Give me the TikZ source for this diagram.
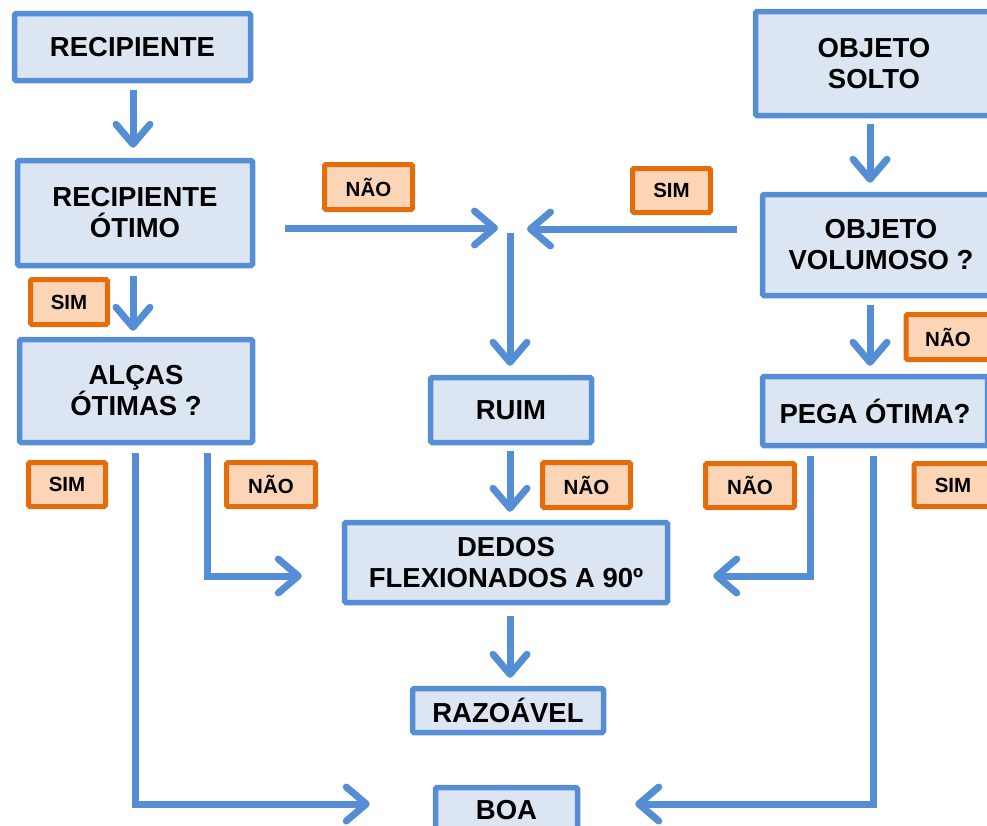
\documentclass[tikz,border=0pt]{standalone}
\usepackage{fontspec}
\setmainfont{Liberation Sans}
\usetikzlibrary{arrows.meta,calc}
\definecolor{boxfill}{HTML}{DCE6F2}
\definecolor{boxline}{HTML}{558ED5}
\definecolor{arrline}{HTML}{558ED5}
\definecolor{tagfill}{HTML}{FBD5B5}
\definecolor{tagline}{HTML}{E46C0A}
\begin{document}
\begin{tikzpicture}[x=1pt,y=-1pt,
  stepbox/.style={draw=boxline, fill=boxfill, line width=5.5pt, rounded corners=1.5pt,
    align=center, inner sep=0pt, font=\fontsize{27.5}{31}\selectfont\bfseries},
  tag/.style={draw=tagline, fill=tagfill, line width=5pt, rounded corners=1.5pt,
    inner sep=0pt, font=\fontsize{20.5}{22}\selectfont\bfseries},
  arr/.style={draw=arrline, line width=7pt,
    -{Straight Barb[length=20pt,width=34pt,line cap=round,line join=round]}},
]
\useasboundingbox (0,0) rectangle (987,825);
\clip (0,0) rectangle (987,825);

% process boxes
\node[stepbox, minimum width=236pt, minimum height=67pt]  (rec)   at (132.5,47)  {RECIPIENTE};
\node[stepbox, minimum width=235pt, minimum height=105pt] (otimo) at (135,213)   {RECIPIENTE\\ÓTIMO};
\node[stepbox, minimum width=233pt, minimum height=103pt] (alcas) at (136,391)   {ALÇAS\\ÓTIMAS ?};
\node[stepbox, minimum width=237pt, minimum height=104pt] (solto) at (874,63.5)  {OBJETO\\SOLTO};
\node[stepbox, minimum width=237pt, minimum height=101pt] (volum) at (881,245)   {OBJETO\\VOLUMOSO ?};
\node[stepbox, minimum width=225pt, minimum height=69pt]  (pega)  at (875,411)   {PEGA ÓTIMA?};
\node[stepbox, minimum width=161pt, minimum height=65pt]  (ruim)  at (511,410)   {RUIM};
\node[stepbox, minimum width=323pt, minimum height=80pt]  (dedos) at (506,562.5) {DEDOS\\FLEXIONADOS A 90º};
\node[stepbox, minimum width=191pt, minimum height=44pt]  (razo)  at (508,710.5) {RAZOÁVEL};
\node[stepbox, minimum width=142pt, minimum height=45pt]  (boa)   at (506.5,810) {BOA};

% answer tags
\node[tag, minimum width=88pt, minimum height=45pt] (tnao1) at (368.5,187)   {NÃO};
\node[tag, minimum width=78pt, minimum height=44pt] (tsim1) at (671.5,190.5) {SIM};
\node[tag, minimum width=77pt, minimum height=45pt] (tsim2) at (69,302)      {SIM};
\node[tag, minimum width=84pt, minimum height=45pt] (tnao2) at (948,337)     {NÃO};
\node[tag, minimum width=77pt, minimum height=44pt] (tsim3) at (67,484.5)    {SIM};
\node[tag, minimum width=89pt, minimum height=44pt] (tnao3) at (271,484.5)   {NÃO};
\node[tag, minimum width=88pt, minimum height=45pt] (tnao4) at (586.5,485)   {NÃO};
\node[tag, minimum width=89pt, minimum height=44pt] (tnao5) at (750,485.5)   {NÃO};
\node[tag, minimum width=78pt, minimum height=43pt] (tsim4) at (953,485)     {SIM};

% routing points
\coordinate (join)  at (510,228);
\coordinate (colL)  at (133,0);
\coordinate (colR)  at (870,0);
\coordinate (colA)  at (135,0);
\coordinate (colB)  at (207,0);
\coordinate (colC)  at (810,0);
\coordinate (colD)  at (873,0);
\coordinate (rowD)  at (0,576);
\coordinate (rowB)  at (0,804);

% straight links
\draw[arr] ($(rec.south -| colL)+(0,7)$) -- ($(otimo.north -| colL)+(0,-10)$);
\draw[arr] ($(otimo.south -| colL)+(0,8)$) -- ($(alcas.north -| colL)+(0,-6)$);
\draw[arr] ($(solto.south -| colR)+(0,6)$) -- ($(volum.north -| colR)+(0,-9)$);
\draw[arr] ($(volum.south -| colR)+(0,7)$) -- ($(pega.north -| colR)+(0,-8)$);
\draw[arr] ($(otimo.east |- join)+(30,0)$) -- ($(join)+(-12,0)$);
\draw[arr] ($(volum.west |- join)+(-23,1)$) -- ($(join)+(17,1)$);
\draw[arr] ($(join)+(0,5)$) -- ($(ruim.north -| join)+(0,-9)$);
\draw[arr] ($(ruim.south -| join)+(0,6)$) -- ($(dedos.north -| join)+(0,-8)$);
\draw[arr] ($(dedos.south -| join)+(0,11)$) -- ($(razo.north -| join)+(0,-8)$);

% elbow links
\draw[arr] ($(alcas.south -| colB)+(0,8)$) |- ($(dedos.west |- rowD)+(-40,0)$);
\draw[arr] ($(alcas.south -| colA)+(0,8)$) |- ($(boa.west |- rowB)+(-63,0)$);
\draw[arr] ($(pega.south -| colC)+(0,8)$) |- ($(dedos.east |- rowD)+(43,0)$);
\draw[arr] ($(pega.south -| colD)+(0,8)$) |- ($(boa.east |- rowB)+(55,0)$);
\end{tikzpicture}
\end{document}
